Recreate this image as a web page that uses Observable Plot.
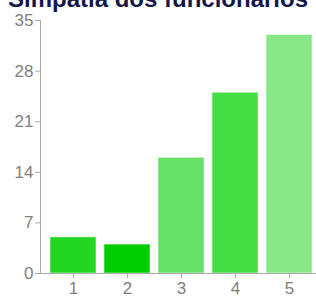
<!DOCTYPE html>
<html>
<head>
<meta charset="utf-8">
<script src="https://cdn.jsdelivr.net/npm/d3@7"></script>
<script src="https://cdn.jsdelivr.net/npm/@observablehq/plot@0.6"></script>
<style>
  html, body { margin: 0; padding: 0; background: #fff; }
  #wrap { position: relative; width: 316px; height: 298px; overflow: hidden; }
  #title { position: absolute; left: 0; width: 316px; top: -15px; text-align: center;
           font: bold 24px "Liberation Sans", Arial, sans-serif; color: #14174a; white-space: nowrap; line-height: 28px; }
  #chart { position: absolute; left: 0; top: 0; }
</style>
</head>
<body>
<div id="wrap"><div id="chart"></div><div id="title">Simpatia dos funcionários</div></div>
<script>
const categories = ["1", "2", "3", "4", "5"];
const values = [5, 4, 16, 25, 33];
const colors = ["#22d622", "#00cc00", "#66e066", "#44dd44", "#88e888"];
const yTicks = [0, 7, 14, 21, 28, 35];

const data = categories.map((c, i) => ({cat: c, value: values[i], color: colors[i]}));

const chart = Plot.plot({
  width: 316,
  height: 298,
  marginTop: 20,
  marginBottom: 25,
  marginLeft: 40,
  marginRight: 0,
  style: {fontFamily: "'Liberation Sans', Arial, sans-serif", fontSize: "17px", color: "#777", background: "#fff"},
  x: {domain: categories, range: [40, 321], paddingInner: 0.15, paddingOuter: 0.17},
  y: {domain: [0, 35]},
  marks: [
    Plot.barY(data, {x: "cat", y: "value", fill: d => d.color, stroke: "#fff", strokeOpacity: 0.5, strokeWidth: 1}),
    Plot.frame({anchor: "left", stroke: "#aaa"}),
    Plot.ruleY([0], {stroke: "#aaa"}),
    Plot.axisY({ticks: yTicks, tickSize: 5, tickPadding: 2, stroke: "#aaa", fill: "#808080", fontSize: 17, label: null}),
    Plot.axisX({tickSize: 5, tickPadding: 3, stroke: "#aaa", fill: "#808080", fontSize: 17, label: null})
  ]
});
document.getElementById("chart").appendChild(chart);
</script>
</body>
</html>
